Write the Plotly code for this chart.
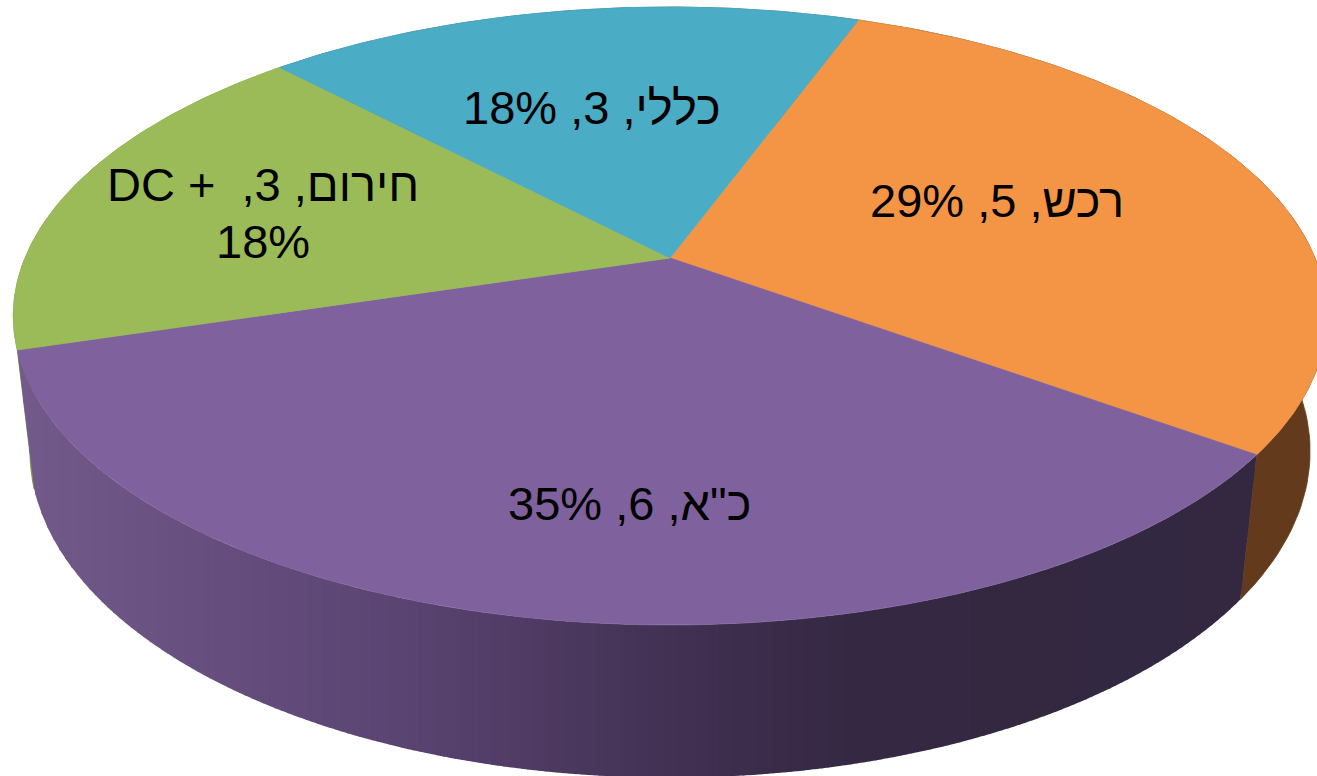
import numpy as np
import plotly.graph_objects as go

# ---- data ----
categories = ['רכש', 'כ"א', 'חירום + DC', 'כללי']
values = [5, 6, 3, 3]
percents = [29, 35, 18, 18]
labels = [
    'רכש, 5, 29%',
    'כ"א, 6, 35%',
    '\u202Bחירום, 3,\u00a0 + DC\u202C<br>18%',
    'כללי, 3, 18%',
]
top_colors = ['#F49545', '#7F629D', '#9BBB59', '#4BACC6']

# ---- view of the tilted disc (pixels of the 1317x776 canvas) ----
START_DEG = 20.1
X0, Y0 = 670.0, 258.0
A, B = 645.0, 298.1
K, M, C = 0.1877, 0.025, 137.0
label_pos = [(997, 200), (629, 503), (263, 213), (592, 107)]
FONT_SIZE = 47
LINE_STEP = 57


def project(theta_deg, depth=0.0):
    t = np.radians(theta_deg)
    u, v = np.sin(t), np.cos(t)
    w = 1 + K * v + M * depth
    return X0 + A * u / w, Y0 + (-B * v + C * depth) / w


def purple_side(x):
    xs = [20, 400, 700, 860, 1300]
    r = np.interp(x, xs, [114, 90, 64, 52, 51])
    g = np.interp(x, xs, [90, 68, 47, 40, 40])
    b = np.interp(x, xs, [138, 114, 80, 66, 64])
    return f'rgb({r:.0f},{g:.0f},{b:.0f})'


side_solid = {0: '#633A1C', 2: '#7A9444', 3: '#2F6F80'}

total = sum(values)
spans = []
a = START_DEG
for val in values:
    spans.append((a, a + 360 * val / total))
    a = spans[-1][1]

fig = go.Figure()


def poly(x, y, color, lw=0.8):
    fig.add_trace(go.Scatter(
        x=list(x), y=list(y), mode='lines', fill='toself', fillcolor=color,
        line=dict(color=color, width=lw), hoverinfo='skip', showlegend=False))


# side walls: far slices first, the front slice last
for i in (3, 2, 0):
    a0, a1 = spans[i]
    th = np.linspace(a0, a1, 80)
    tx, ty = project(th)
    bx, by = project(th, 1.0)
    poly(np.r_[tx, bx[::-1], tx[0]], np.r_[ty, by[::-1], ty[0]], side_solid[i])

# front wall: vertical colour bands between its upper and lower outlines
a0, a1 = spans[1]
th = np.linspace(a1, a0, 400)          # left to right
tx, ty = project(th)
bx, by = project(th, 1.0)
low_x = np.r_[tx[0], bx, tx[-1]]
low_y = np.r_[ty[0], by, ty[-1]]
edges = np.arange(tx[0], tx[-1] + 6, 6.0)
edges[-1] = tx[-1]
for e0, e1 in zip(edges[:-1], edges[1:]):
    xs = np.linspace(e0, min(e1 + 1.0, tx[-1]), 8)
    up = np.interp(xs, tx, ty)
    lo = np.interp(xs, low_x, low_y)
    poly(np.r_[xs, xs[::-1], xs[0]], np.r_[up, lo[::-1], up[0]],
         purple_side(float(xs.mean())), lw=0)

# top faces
for (a0, a1), col in zip(spans, top_colors):
    th = np.linspace(a0, a1, 160)
    x, y = project(th)
    poly(np.r_[X0, x, X0], np.r_[Y0, y, Y0], col)

for text, (lx, ly) in zip(labels, label_pos):
    lines = text.split('<br>')
    first = ly - LINE_STEP * (len(lines) - 1) / 2
    for n, line in enumerate(lines):
        fig.add_annotation(x=lx, y=first + n * LINE_STEP, text=line, showarrow=False,
                           xanchor='center', yanchor='middle', align='center',
                           font=dict(family='Liberation Sans, Arial, sans-serif',
                                     size=FONT_SIZE, color='black'))

fig.update_layout(
    width=1317, height=776, margin=dict(l=0, r=0, t=0, b=0),
    paper_bgcolor='white', plot_bgcolor='white', showlegend=False,
    xaxis=dict(range=[0, 1317], visible=False, fixedrange=True),
    yaxis=dict(range=[776, 0], visible=False, fixedrange=True),
)
fig.write_html('out.html', config={'displayModeBar': False},
               post_script="document.body.style.margin='0';document.body.style.overflow='hidden';")
